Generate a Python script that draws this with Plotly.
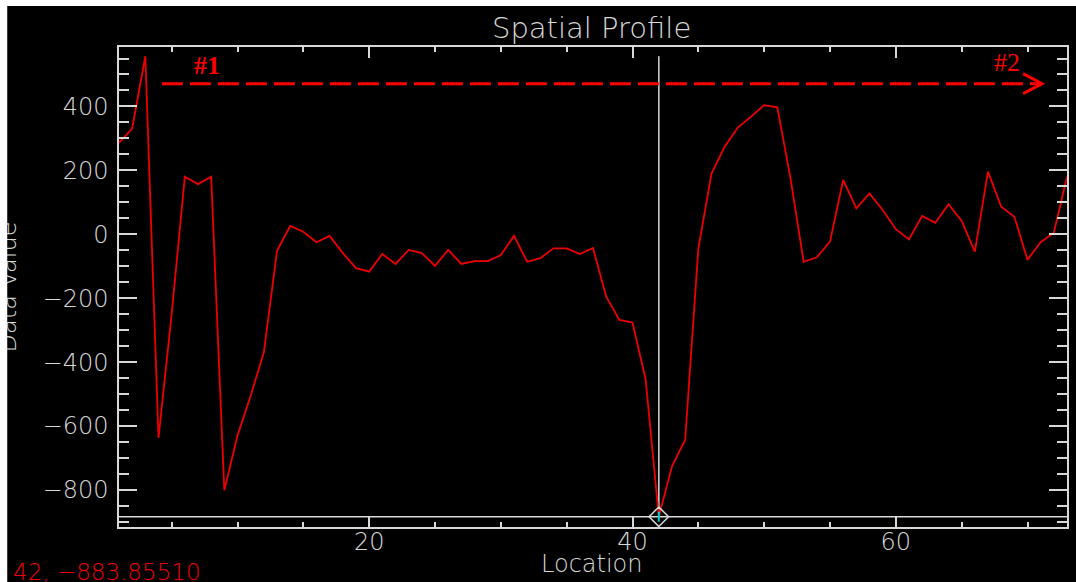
import plotly.graph_objects as go

# ---------------- data ----------------
location = [1, 2, 3, 4, 5, 6, 7, 8, 9, 10, 11, 12, 13, 14, 15, 16, 17, 18, 19, 20,
            21, 22, 23, 24, 25, 26, 27, 28, 29, 30, 31, 32, 33, 34, 35, 36, 37, 38, 39, 40,
            41, 42, 43, 44, 45, 46, 47, 48, 49, 50, 51, 52, 53, 54, 55, 56, 57, 58, 59, 60,
            61, 62, 63, 64, 65, 66, 67, 68, 69, 70, 71, 72, 73]
data_value = [286, 331, 557, -637, -250, 180, 157, 180, -801, -630,
              -505, -370, -52, 26, 8, -25, -5, -59, -106, -117,
              -62, -93, -49, -59, -99, -49, -93, -84, -84, -65,
              -5, -86, -75, -44, -44, -62, -43, -195, -268, -276,
              -455, -883.85510, -726, -643, -45, 190, 274, 334, 368, 404,
              397, 175, -86, -72, -23, 170, 81, 128, 76, 16,
              -16, 57, 36, 94, 42, -54, 196, 86, 55, -80,
              -25, 5, 180]
cursor_location = 42
cursor_value = -883.85510
x_range = [1, 73]
y_range = [-916, 586]
x_ticks = [20, 40, 60]
y_ticks = [-800, -600, -400, -200, 0, 200, 400]
y_ticktext = ["\u2212800", "\u2212600", "\u2212400", "\u2212200", "0", "200", "400"]

# ---------------- layout geometry (pixels) ----------------
W, H = 1076, 582
L, R, T, B = 119, 1069, 47, 527
AX = "#d8d8d8"
RED = "#ee0000"
FONT = "DejaVu Sans"


def fx(px):
    return (px - L) / (R - L)


def fy(py):
    return (B - py) / (B - T)


fig = go.Figure()

# crosshair lines (span from data min to data max / full x range)
fig.add_trace(go.Scatter(x=[cursor_location, cursor_location],
                         y=[min(data_value), max(data_value)],
                         mode="lines", line=dict(color=AX, width=1.5),
                         hoverinfo="skip", showlegend=False))
fig.add_trace(go.Scatter(x=x_range, y=[cursor_value, cursor_value],
                         mode="lines", line=dict(color=AX, width=1.5),
                         hoverinfo="skip", showlegend=False))

# profile
fig.add_trace(go.Scatter(x=location, y=data_value, mode="lines",
                         line=dict(color=RED, width=1.8), showlegend=False))

# cursor marker
fig.add_trace(go.Scatter(x=[cursor_location], y=[cursor_value], mode="markers",
                         marker=dict(symbol="diamond-open", size=15,
                                     line=dict(color=AX, width=1.5), color=AX),
                         showlegend=False, hoverinfo="skip"))
fig.add_trace(go.Scatter(x=[cursor_location], y=[cursor_value], mode="markers",
                         marker=dict(symbol="line-ns", size=7,
                                     line=dict(color="#00d0d0", width=2)),
                         showlegend=False, hoverinfo="skip"))

axis_font = dict(family=FONT, size=24, color=AX, weight=200)

fig.update_xaxes(range=x_range, showgrid=False, zeroline=False,
                 showline=True, linecolor=AX, linewidth=1.5, mirror="allticks",
                 ticks="inside", ticklen=11, tickwidth=1.5, tickcolor=AX,
                 tickvals=x_ticks, tickfont=axis_font, ticklabelstandoff=-8,
                 minor=dict(dtick=5, tick0=0, ticks="inside", ticklen=5,
                            tickwidth=1.5, tickcolor=AX, showgrid=False))
fig.update_yaxes(range=y_range, showgrid=False, zeroline=False,
                 showline=True, linecolor=AX, linewidth=1.5, mirror="allticks",
                 ticks="inside", ticklen=18, tickwidth=1.5, tickcolor=AX,
                 tickvals=y_ticks, ticktext=y_ticktext, tickfont=axis_font,
                 ticklabelstandoff=4,
                 minor=dict(dtick=50, tick0=0, ticks="inside", ticklen=10,
                            tickwidth=1.5, tickcolor=AX, showgrid=False))

annotations = [
    dict(text="Spatial Profile", x=fx(592.5), y=fy(28), xref="paper", yref="paper",
         xanchor="center", yanchor="middle", showarrow=False,
         font=dict(family=FONT, size=29, color=AX, weight=200)),
    dict(text="Location", x=fx(593), y=fy(564), xref="paper", yref="paper",
         xanchor="center", yanchor="middle", showarrow=False,
         font=dict(family=FONT, size=24, color=AX, weight=200)),
    dict(text="42, \u2212883.85510", x=fx(11), y=fy(572), xref="paper", yref="paper",
         xanchor="left", yanchor="middle", showarrow=False,
         font=dict(family=FONT, size=23, color=RED, weight=200)),
    dict(text="<b>#1</b>", x=fx(207), y=fy(66), xref="paper", yref="paper",
         xanchor="center", yanchor="middle", showarrow=False,
         font=dict(family="Liberation Serif", size=26, color="#ff0000")),
    dict(text="#2", x=fx(1009), y=fy(62), xref="paper", yref="paper",
         xanchor="center", yanchor="middle", showarrow=False,
         font=dict(family="Liberation Serif", size=26, color="#ff0000")),
]

arrow_y = 83.7
chev = "M {:.5f},{:.5f} L {:.5f},{:.5f} L {:.5f},{:.5f}".format(
    fx(1025), fy(arrow_y - 10), fx(1044), fy(arrow_y), fx(1025), fy(arrow_y + 10))

shapes = [
    dict(type="line", xref="paper", yref="paper", x0=fx(162), x1=fx(1041),
         y0=fy(arrow_y), y1=fy(arrow_y), line=dict(color="#ff0000", width=3, dash="21px,7px"),
         layer="above"),
    dict(type="path", xref="paper", yref="paper", path=chev,
         line=dict(color="#ff0000", width=3), layer="above"),
    # y axis title (drawn as a shape label so the white border can cover it)
    dict(type="rect", xref="paper", yref="paper", x0=fx(-4), x1=fx(15),
         y0=fy(357), y1=fy(217), line=dict(width=0), fillcolor="rgba(0,0,0,0)",
         layer="above",
         label=dict(text="Data Value", textangle=-90, textposition="middle center",
                    font=dict(family=FONT, size=24, color=AX, weight=200))),
    # white border (top and left)
    dict(type="rect", xref="paper", yref="paper", x0=fx(-3), x1=fx(7),
         y0=fy(H + 3), y1=fy(-3), line=dict(width=0), fillcolor="white", layer="above"),
    dict(type="rect", xref="paper", yref="paper", x0=fx(-3), x1=fx(W + 3),
         y0=fy(6), y1=fy(-3), line=dict(width=0), fillcolor="white", layer="above"),
]

fig.update_layout(width=W, height=H, margin=dict(l=L, r=W - R, t=T, b=H - B),
                  paper_bgcolor="black", plot_bgcolor="black",
                  showlegend=False, annotations=annotations, shapes=shapes)

fig.write_html("out.html")
